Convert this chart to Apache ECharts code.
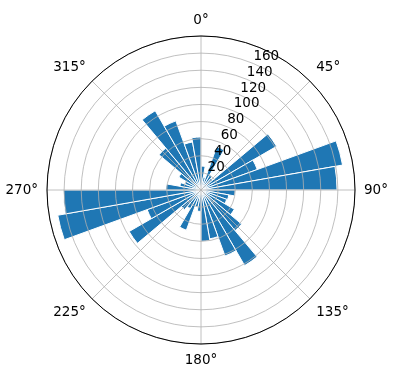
<!DOCTYPE html>
<html><head><meta charset="utf-8">
<script src="https://cdn.jsdelivr.net/npm/echarts@6/dist/echarts.min.js"></script>
<style>html,body{margin:0;padding:0;background:#fff}#c{width:396px;height:380px}</style>
</head><body><div id="c"></div>
<script>
// 36 direction bins of 10 degrees, clockwise from north
const binStarts = [0,10,20,30,40,50,60,70,80,90,100,110,120,130,140,150,160,170,180,190,200,210,220,230,240,250,260,270,280,290,300,310,320,330,340,350];
const counts = [28,15,54,20,18,102,70,168,159,40,33,32,45,62,102,82,58,60,25,20,50,25,30,97,67,170,161,41,25,20,30,64,107,86,57,62];
const angleTickValues = [0,45,90,135,180,225,270,315];
const radiusTickValues = [20,40,60,80,100,120,140,160];
const radiusMax = 180;

const chart = echarts.init(document.getElementById('c'), null, {renderer:'canvas'});
const FONT = 'DejaVu Sans';
const center = [201, 190], radius = 154;
chart.setOption({
  animation: false,
  polar: [
    {center: center, radius: radius},
    {center: center, radius: radius},
    {center: center, radius: radius}
  ],
  angleAxis: [
    {polarIndex:0, type:'category', data: binStarts.map(String), startAngle:90, clockwise:true,
     boundaryGap:true, axisLine:{show:false}, axisTick:{show:false}, axisLabel:{show:false}, splitLine:{show:false}},
    {polarIndex:1, type:'value', min:0, max:360, interval:45, startAngle:90, clockwise:true, z:6,
     axisLine:{show:true, lineStyle:{color:'#000', width:1}}, axisTick:{show:false},
     axisLabel:{show:true, margin:9, color:'#000', fontFamily:FONT, fontSize:13.5,
       formatter: v => angleTickValues.includes(v) ? v + '°' : ''},
     splitLine:{show:true, lineStyle:{color:'#b0b0b0', width:0.8}}},
    {polarIndex:2, type:'value', min:0, max:360, startAngle:67.5, clockwise:true,
     axisLine:{show:false}, axisTick:{show:false}, axisLabel:{show:false}, splitLine:{show:false}}
  ],
  radiusAxis: [
    {polarIndex:0, type:'value', min:0, max:radiusMax, axisLine:{show:false}, axisTick:{show:false}, axisLabel:{show:false}, splitLine:{show:false}},
    {polarIndex:1, type:'value', min:0, max:radiusMax, interval:20, z:5, axisLine:{show:false}, axisTick:{show:false}, axisLabel:{show:false},
     splitLine:{show:true, lineStyle:{color:'#b0b0b0', width:0.8}}},
    {polarIndex:2, type:'value', min:0, max:radiusMax, interval:20, z:7, axisLine:{show:false}, axisTick:{show:false},
     axisLabel:{show:true, color:'#000', fontFamily:FONT, fontSize:13.5, margin:0, align:'left', verticalAlign:'bottom',
       formatter: v => radiusTickValues.includes(v) ? String(v) : ''},
     splitLine:{show:false}}
  ],
  series: [{
    type:'bar', coordinateSystem:'polar', polarIndex:0, data: counts, z:2,
    barCategoryGap:'0%', itemStyle:{color:'#1f77b4', borderColor:'#fff', borderWidth:1}
  }]
});
</script></body></html>
